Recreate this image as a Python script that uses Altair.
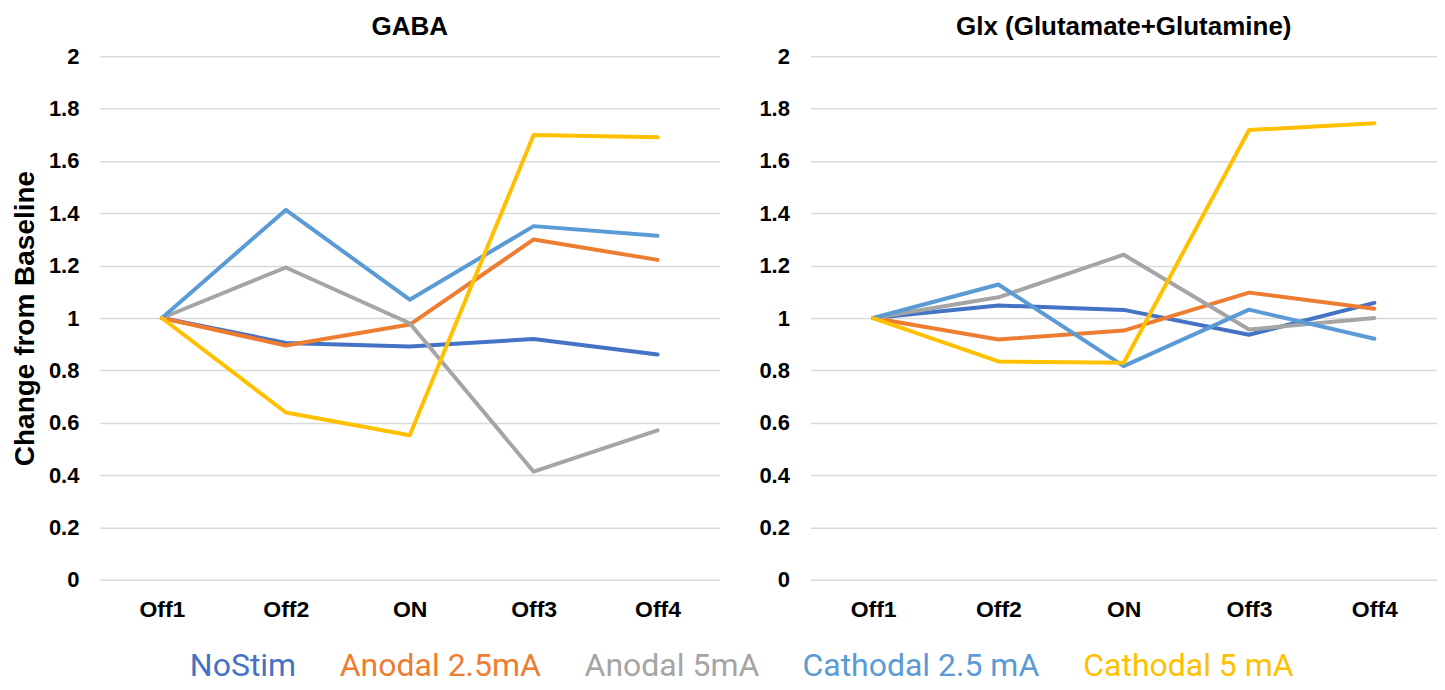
import altair as alt
import pandas as pd

categories = ["Off1", "Off2", "ON", "Off3", "Off4"]
groups = ["NoStim", "Anodal 2.5mA", "Anodal 5mA", "Cathodal 2.5 mA", "Cathodal 5 mA"]
colors = ["#4472C4", "#ED7D31", "#A5A5A5", "#5B9BD5", "#FFC000"]

gaba_nostim = [1.0, 0.905, 0.891, 0.920, 0.861]
gaba_anodal25 = [1.0, 0.895, 0.975, 1.300, 1.222]
gaba_anodal5 = [1.0, 1.193, 0.980, 0.413, 0.571]
gaba_cath25 = [1.0, 1.413, 1.070, 1.351, 1.314]
gaba_cath5 = [1.0, 0.639, 0.552, 1.699, 1.690]

glx_nostim = [1.0, 1.048, 1.031, 0.936, 1.058]
glx_anodal25 = [1.0, 0.918, 0.952, 1.097, 1.035]
glx_anodal5 = [1.0, 1.079, 1.242, 0.956, 1.000]
glx_cath25 = [1.0, 1.128, 0.816, 1.032, 0.921]
glx_cath5 = [1.0, 0.834, 0.829, 1.718, 1.744]

y_ticks = [0, 0.2, 0.4, 0.6, 0.8, 1, 1.2, 1.4, 1.6, 1.8, 2]


def make_df(series):
    rows = []
    for gi, (g, vals) in enumerate(zip(groups, series)):
        for ci, (c, v) in enumerate(zip(categories, vals)):
            rows.append({"group": g, "gorder": gi, "cat": c, "corder": ci, "value": v})
    return pd.DataFrame(rows)


gaba_df = make_df([gaba_nostim, gaba_anodal25, gaba_anodal5, gaba_cath25, gaba_cath5])
glx_df = make_df([glx_nostim, glx_anodal25, glx_anodal5, glx_cath25, glx_cath5])

label_expr = " : ".join(
    [f"datum.label == '{g}' ? '{c}'" for g, c in zip(groups[:-1], colors[:-1])]
) + f" : '{colors[-1]}'"

color_enc = alt.Color(
    "group:N",
    scale=alt.Scale(domain=groups, range=colors),
    legend=alt.Legend(
        title=None,
        orient="none",
        direction="horizontal",
        legendX=58,
        legendY=594,
        symbolSize=0,
        symbolOpacity=0,
        symbolStrokeWidth=0,
        labelOffset=0,
        columnPadding=11,
        labelFont="Roboto",
        labelFontSize=32,
        labelColor={"expr": label_expr},
        labelLimit=400,
    ),
)


def panel(df, title, show_title, width):
    return (
        alt.Chart(df, title=alt.Title(title, fontSize=26, font="Liberation Sans",
                                      fontWeight="bold", color="#000000", offset=5))
        .mark_line(strokeWidth=4, strokeCap="round", strokeJoin="round")
        .encode(
            x=alt.X(
                "cat:O",
                sort=categories,
                scale=alt.Scale(padding=0.5),
                axis=alt.Axis(
                    title=None, labelAngle=0, domain=False, ticks=False,
                    labelFontSize=23, labelFontWeight="bold", labelFont="Liberation Sans",
                    labelColor="#000000", labelPadding=19, grid=False,
                ),
            ),
            y=alt.Y(
                "value:Q",
                scale=alt.Scale(domain=[0, 2], nice=False),
                axis=alt.Axis(
                    title="Change from Baseline" if show_title else None,
                    values=y_ticks, format="~g", domain=False, ticks=False,
                    labelFontSize=22, labelFontWeight="bold", labelFont="Liberation Sans",
                    labelColor="#000000", labelPadding=21,
                    titleFontSize=28, titleFont="Liberation Sans", titleFontWeight="bold",
                    titleColor="#000000", titlePadding=9,
                    gridColor="#D9D9D9", gridWidth=1.5,
                ),
            ),
            color=color_enc,
            order=alt.Order("corder:Q"),
            detail="gorder:N",
        )
        .properties(width=width, height=524)
    )


chart = (
    alt.hconcat(
        panel(gaba_df, "GABA", True, 620),
        panel(glx_df, "Glx (Glutamate+Glutamine)", False, 627),
        spacing=39,
    )
    .resolve_scale(color="shared")
    .properties(padding={"top": 6, "left": 3, "right": 0, "bottom": 2},
                background="white")
    .configure_view(stroke=None, strokeWidth=0)
)

chart.save("out.html", embed_options={"renderer": "svg", "actions": False})
